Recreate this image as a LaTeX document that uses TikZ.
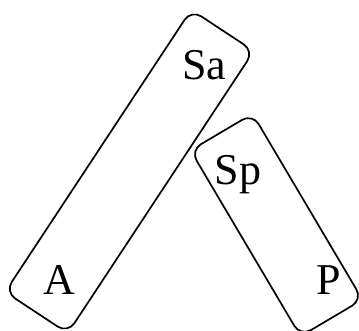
\documentclass[tikz,border=0pt]{standalone}
\usepackage{fontspec}
\setmainfont{Liberation Serif}
\usetikzlibrary{positioning}

\tikzset{
  groupbox/.style={draw, line width=1.7pt, rounded corners=12pt, inner sep=0pt},
  glabel/.style={font=\fontsize{44}{52}\selectfont, anchor=base, inner sep=0pt}
}

\begin{document}
\begin{tikzpicture}[x=1pt, y=1pt]
\useasboundingbox (0,0) rectangle (359,331);

% --- first group: A ... Sa ---
\node[groupbox, minimum width=338pt, minimum height=75pt, rotate=56.6] (boxa) at (129.5,159.5) {};
\node[glabel] (sa) at (204,251) {Sa};
\node[glabel] (a) at (59,36) {A};

% --- second group: Sp ... P ---
\node[groupbox, minimum width=216pt, minimum height=72pt, rotate=-59.4] (boxp) at (276.5,106) {};
\node[glabel] (sp) at (238,146) {Sp};
\node[glabel] (p) at (329,36) {P};

\end{tikzpicture}
\end{document}
